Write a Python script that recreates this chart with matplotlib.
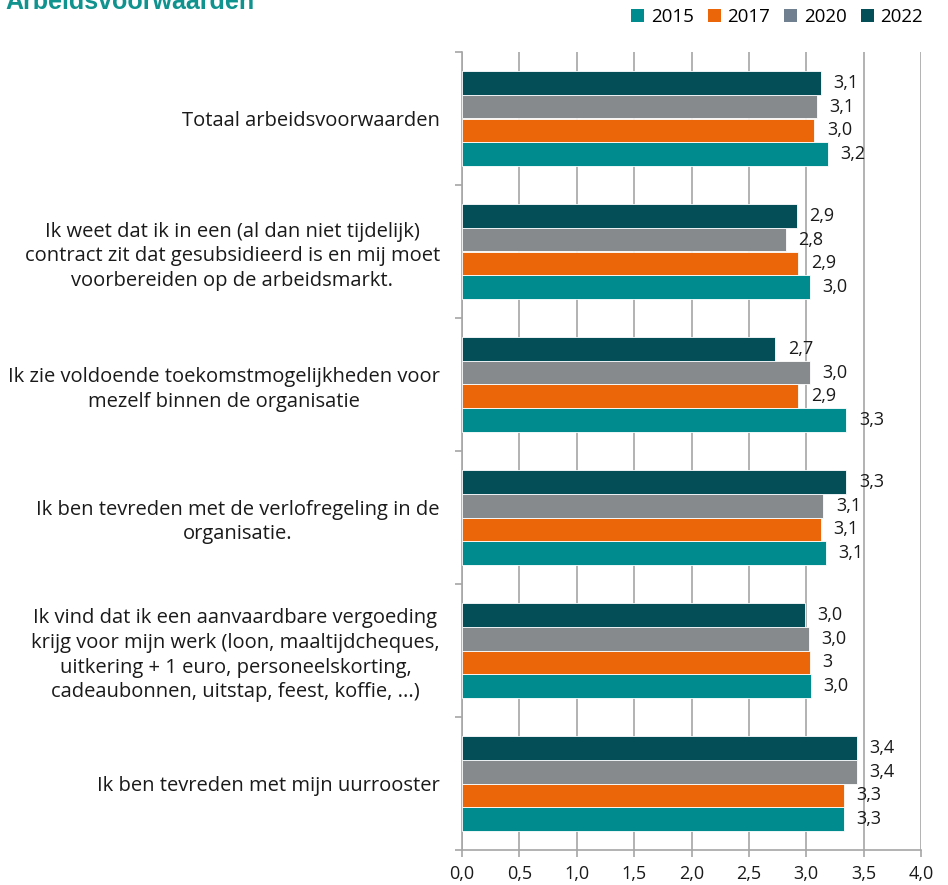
import matplotlib
matplotlib.use("Agg")
import matplotlib.pyplot as plt
import numpy as np
from matplotlib.patches import Patch
from matplotlib.ticker import FixedFormatter, FixedLocator

plt.rcParams['font.family'] = ['Open Sans', 'DejaVu Sans']

categories = [
    "Totaal arbeidsvoorwaarden",
    "Ik weet dat ik in een (al dan niet tijdelijk)\ncontract zit dat gesubsidieerd is en mij moet\nvoorbereiden op de arbeidsmarkt.",
    "Ik zie voldoende toekomstmogelijkheden voor\nmezelf binnen de organisatie",
    "Ik ben tevreden met de verlofregeling in de\norganisatie.",
    "Ik vind dat ik een aanvaardbare vergoeding\nkrijg voor mijn werk (loon, maaltijdcheques,\nuitkering + 1 euro, personeelskorting,\ncadeaubonnen, uitstap, feest, koffie, ...)",
    "Ik ben tevreden met mijn uurrooster",
]
years = ["2015", "2017", "2020", "2022"]
v2015 = [3.19, 3.03, 3.35, 3.17, 3.04, 3.33]
v2017 = [3.07, 2.93, 2.93, 3.13, 3.03, 3.33]
v2020 = [3.09, 2.82, 3.03, 3.15, 3.02, 3.44]
v2022 = [3.13, 2.92, 2.73, 3.35, 2.99, 3.44]
l2015 = ["3,2", "3,0", "3,3", "3,1", "3,0", "3,3"]
l2017 = ["3,0", "2,9", "2,9", "3,1", "3", "3,3"]
l2020 = ["3,1", "2,8", "3,0", "3,1", "3,0", "3,4"]
l2022 = ["3,1", "2,9", "2,7", "3,3", "3,0", "3,4"]
xticks = [0.0, 0.5, 1.0, 1.5, 2.0, 2.5, 3.0, 3.5, 4.0]
xticklabels = ["0,0", "0,5", "1,0", "1,5", "2,0", "2,5", "3,0", "3,5", "4,0"]

colors = ["#008B8F", "#EB6609", "#878A8D", "#034E57"]
legend_colors = ["#008B8F", "#EB6609", "#708090", "#034E57"]
txt = "#1a1a1a"

fig = plt.figure(figsize=(9.48, 8.85), dpi=100)
ax = fig.add_axes([462/948, 1-850/885, (921-462)/948, (850-52)/885])

n = len(categories)
y = np.arange(n)
h = 0.18
offsets = [0.27, 0.09, -0.09, -0.27]
series = [v2015, v2017, v2020, v2022]
labels = [l2015, l2017, l2020, l2022]
for s, off, c, lab in zip(series, offsets, colors, labels):
    ax.barh(y + off, s, height=h, color=c, edgecolor="white", linewidth=0.6, zorder=3)
    for yi, v, t in zip(y, s, lab):
        ax.annotate(t, (v, yi + off), xytext=(9, 0), textcoords="offset points",
                    va="center", ha="left", fontsize=13, color=txt)

ax.set_xlim(0, 4.0)
ax.set_ylim(n - 0.5, -0.5)
ax.xaxis.set_major_locator(FixedLocator(xticks))
ax.xaxis.set_major_formatter(FixedFormatter(xticklabels))
ax.xaxis.grid(True, color="#A6A6A6", linewidth=1.2, zorder=0)
ax.set_axisbelow(True)
ax.yaxis.set_major_locator(FixedLocator(list(np.arange(n + 1) - 0.5)))
ax.yaxis.set_major_formatter(FixedFormatter([""] * (n + 1)))
ax.set_yticks(y, minor=True)
ax.set_yticklabels(categories, minor=True, fontsize=14.5, color=txt, ha="right",
                   multialignment="center", linespacing=1.3)
ax.tick_params(axis="y", which="minor", length=0, pad=16)
ax.tick_params(axis="y", which="major", length=5, color="#A6A6A6", width=1.2)
ax.tick_params(axis="x", length=5, color="#A6A6A6", width=1.2, pad=6, labelsize=13, labelcolor=txt)
for sp in ["top", "right"]:
    ax.spines[sp].set_visible(False)
for sp in ["left", "bottom"]:
    ax.spines[sp].set_color("#A6A6A6")
    ax.spines[sp].set_linewidth(1.2)

fig.text(5/948, 1-9/885, "Arbeidsvoorwaarden", fontsize=18, fontweight="bold",
         color="#10928F", family=["Liberation Sans", "DejaVu Sans"], va="baseline", ha="left")

handles = [Patch(facecolor=c, edgecolor="none") for c in legend_colors]
fig.legend(handles, years, loc="center right", bbox_to_anchor=(923/948, 1-17/885), ncol=4,
           frameon=False, fontsize=13.5, handlelength=0.7, handleheight=0.7, handletextpad=0.35,
           columnspacing=0.75, borderaxespad=0, borderpad=0)

fig.savefig("out.png", dpi=100)
